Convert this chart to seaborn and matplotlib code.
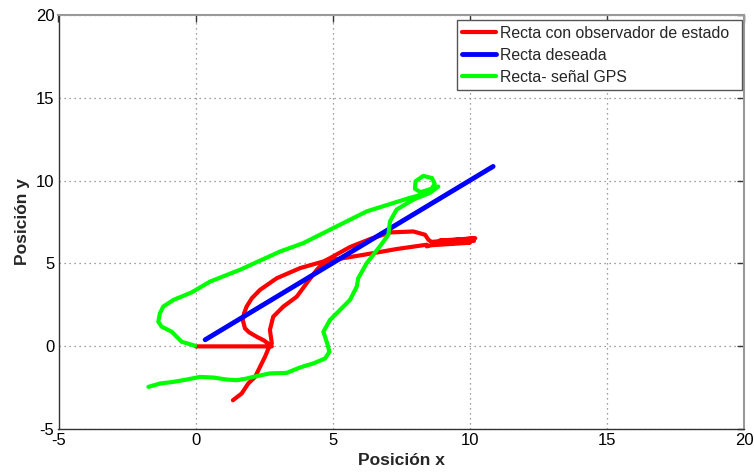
import matplotlib
matplotlib.use("Agg")
import matplotlib.pyplot as plt
import seaborn as sns
import pandas as pd

# Trayectoria estimada con el observador de estado
obs_x = [0.0, 2.78, 2.50, 2.23, 1.95, 1.80, 1.72, 1.77, 1.86, 2.05, 2.35, 2.96, 3.81, 4.66,
         4.90, 5.63, 6.36, 7.09, 7.94, 8.37, 8.49, 8.60, 10.20, 8.90, 10.15, 8.80, 10.00,
         8.60, 8.43, 8.43, 7.33, 6.12, 5.02, 4.54, 4.42, 4.05, 3.69, 3.20, 2.83, 2.71,
         2.78, 2.71, 2.53, 2.35, 2.17, 1.92, 1.68, 1.36]
obs_y = [0.0, 0.0, 0.35, 0.58, 0.85, 1.09, 1.59, 2.00, 2.40, 2.90, 3.41, 4.11, 4.72, 5.12,
         5.32, 5.99, 6.47, 6.87, 6.93, 6.73, 6.43, 6.30, 6.52, 6.38, 6.36, 6.22, 6.25,
         6.10, 6.03, 6.13, 5.87, 5.52, 5.22, 4.82, 4.62, 3.81, 3.00, 2.40, 1.79, 0.99,
         0.18, 0.08, -0.63, -1.23, -1.84, -2.24, -2.84, -3.25]

# Recta de referencia
ref_x = [0.35, 10.85]
ref_y = [0.40, 10.85]

# Trayectoria medida por el GPS
gps_x = [-1.72, -1.30, -0.81, -0.32, 0.16, 0.65, 1.13, 1.50, 1.86, 2.10, 2.71, 3.32, 3.81,
         4.29, 4.72, 4.88, 4.80, 4.66, 4.90, 5.27, 5.63, 5.88, 5.93, 6.24, 6.72, 7.03,
         7.09, 7.33, 7.94, 8.55, 8.85, 8.60, 8.20, 8.00, 8.02, 8.30, 8.62, 8.72, 8.55,
         8.20, 7.80, 6.24, 5.27, 3.93, 3.08, 1.62, 0.53, -0.15, -0.81, -1.18, -1.30,
         -1.36, -1.24, -0.87, -0.69, -0.51, -0.02]
gps_y = [-2.44, -2.24, -2.14, -2.00, -1.84, -1.88, -2.00, -2.04, -1.94, -1.84, -1.63, -1.60,
         -1.27, -1.03, -0.73, -0.33, 0.18, 0.88, 1.59, 2.20, 2.80, 3.61, 4.11, 5.02, 6.03,
         6.73, 7.54, 8.25, 8.85, 9.26, 9.64, 9.50, 9.30, 9.50, 9.95, 10.28, 10.15, 9.80,
         9.35, 9.12, 8.95, 8.14, 7.34, 6.23, 5.72, 4.62, 3.91, 3.25, 2.80, 2.40, 2.00,
         1.49, 1.19, 0.88, 0.58, 0.28, 0.04]

series_labels = ["Recta con observador de estado", "Recta deseada", "Recta- señal GPS"]
x_ticks = [-5, 0, 5, 10, 15, 20]
y_ticks = [-5, 0, 5, 10, 15, 20]

sns.set_theme(style="white")
plt.rcParams["font.family"] = ["Liberation Sans", "DejaVu Sans"]

fig = plt.figure(figsize=(7.54, 4.72), dpi=100)
ax = fig.add_axes([58.5 / 754, 1 - 429.3 / 472, (744 - 58.5) / 754, (429.3 - 14.7) / 472])

curves = [
    (obs_x, obs_y, "#ff0000", series_labels[0], 3.0),
    (ref_x, ref_y, "#0000ff", series_labels[1], 3.5),
    (gps_x, gps_y, "#00ff00", series_labels[2], 3.0),
]
for xs, ys, col, lab, lw in curves:
    df = pd.DataFrame({"x": xs, "y": ys})
    sns.lineplot(data=df, x="x", y="y", sort=False, estimator=None, color=col,
                 linewidth=lw, label=lab, ax=ax)

ax.set_xlim(-5, 20)
ax.set_ylim(-5, 20)
ax.set_xticks(x_ticks)
ax.set_yticks(y_ticks)
ax.set_xticklabels([str(t) for t in x_ticks])
ax.set_yticklabels([str(t) for t in y_ticks])
ax.grid(True, linestyle=(0, (1, 3)), color="#808080", linewidth=0.9)

ax.tick_params(direction="in", length=5, width=1, colors="#333333", labelsize=12,
               top=True, right=True, pad=3, labelcolor="black")
for side in ("left", "bottom"):
    ax.spines[side].set_color("#333333")
    ax.spines[side].set_linewidth(1.0)
for side in ("top", "right"):
    ax.spines[side].set_color("#999999")
    ax.spines[side].set_linewidth(1.5)

ax.set_xlabel("Posición x", fontsize=12.5, fontweight="bold", labelpad=3)
ax.set_ylabel("Posición y", fontsize=12.5, fontweight="bold", labelpad=4)

# Leyenda con ancho fijo y el texto alineado a la izquierda
leg = ax.legend(loc="upper left", bbox_to_anchor=(0.581, 0.5, 0.4157, 0.487),
                mode="expand", borderaxespad=0,
                fontsize=11.4, frameon=True, fancybox=False, framealpha=1,
                edgecolor="#555555", handlelength=2.1, handletextpad=0.25,
                borderpad=0.35, labelspacing=0.45)
leg.get_frame().set_linewidth(1.0)

fig.savefig("out.png", dpi=100)
